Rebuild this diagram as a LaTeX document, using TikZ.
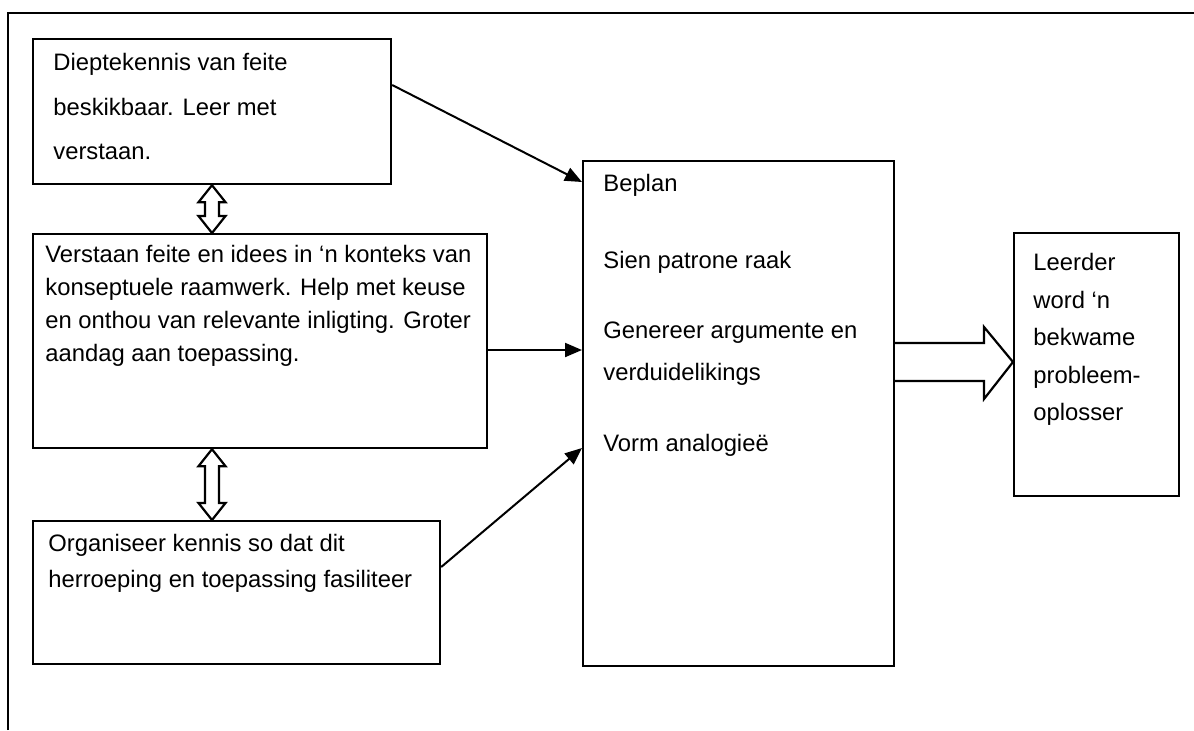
\documentclass[tikz,border=0pt]{standalone}
\usepackage{fontspec}
\setmainfont{Liberation Sans}
\usetikzlibrary{arrows.meta,calc}

% hollow vertical double arrow between two points (top, bottom)
\newcommand\vdoublearrow[2]{%
  \draw[hollow] (#1) -- ($(#1)+(13.5,17)$) -- ($(#1)+(7,17)$) -- ($(#2)+(7,-17)$)
    -- ($(#2)+(13.5,-17)$) -- (#2) -- ($(#2)+(-13.5,-17)$) -- ($(#2)+(-7,-17)$)
    -- ($(#1)+(-7,17)$) -- ($(#1)+(-13.5,17)$) -- cycle;}

\begin{document}
\begin{tikzpicture}[x=0.5pt,y=-0.5pt,
  box/.style={draw, line width=1.1pt, inner sep=0pt, anchor=north west},
  txt/.style={anchor=north west, inner sep=0pt, align=left,
              font=\fontsize{11.9pt}{#1}\selectfont},
  link/.style={line width=1pt, -{Triangle[length=8.5pt,width=7pt]}},
  hollow/.style={draw, line width=1.1pt, fill=white, line join=miter}]

\useasboundingbox (0,0) rectangle (1194,730);

% open outer frame
\draw[line width=1.3pt] (8,730) -- (8,13) -- (1194,13);

% boxes
\node[box, minimum width=179pt, minimum height=72.5pt]  (b1) at (32,38)   {};
\node[box, minimum width=227pt, minimum height=107pt]   (b2) at (32,233)  {};
\node[box, minimum width=203.5pt, minimum height=71.5pt](b3) at (32,520)  {};
\node[box, minimum width=155.5pt, minimum height=252.5pt](c) at (582,160) {};
\node[box, minimum width=82.5pt, minimum height=131.5pt](r)  at (1013,232) {};

% texts
\node[txt=22.25pt] (t1) at (53,53)
  {Dieptekennis van feite\\beskikbaar. Leer met\\verstaan.};
\node[txt=16.5pt] (t2) at (45,245)
  {Verstaan feite en idees in ‘n konteks van\\konseptuele raamwerk. Help met keuse\\en onthou van relevante inligting. Groter\\aandag aan toepassing.};
\node[txt=18pt] (t3) at (48,534)
  {Organiseer kennis so dat dit\\herroeping en toepassing fasiliteer};
\node[txt=21pt] (tc) at (603,174)
  {Beplan\\[17.5pt]Sien patrone raak\\[14pt]Genereer argumente en\\verduidelikings\\[14.5pt]Vorm analogieë};
\node[txt=18.75pt] (tr) at (1033,253)
  {Leerder\\word ‘n\\bekwame\\probleem-\\oplosser};

% connectors into the planning box
\coordinate (mid) at (0,350);
\draw[link] ([yshift=-23.5pt]b1.north east) -- ([yshift=-11pt]c.north west);
\draw[link] (b2.east |- mid) -- (c.west |- mid);
\draw[link] ([yshift=-23.5pt]b3.north east) -- ([yshift=-144pt]c.north west);

% two-way arrows between the stacked boxes
\coordinate (d1t) at (212,0 |- b1.south);
\coordinate (d1b) at (212,0 |- b2.north);
\coordinate (d2t) at (212,0 |- b2.south);
\coordinate (d2b) at (212,0 |- b3.north);
\vdoublearrow{d1t}{d1b}
\vdoublearrow{d2t}{d2b}

% wide hollow arrow to the result box
\coordinate (tip) at (r.west |- 0,362);
\draw[hollow, fill=none] (c.east |- 0,343) -- ($(tip)+(-29,-19)$) -- ($(tip)+(-29,-35)$)
  -- (tip) -- ($(tip)+(-29,37)$) -- ($(tip)+(-29,19)$) -- (c.east |- 0,381);
\end{tikzpicture}
\end{document}
